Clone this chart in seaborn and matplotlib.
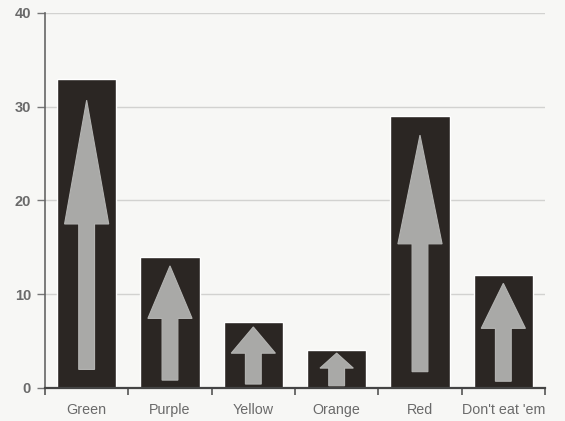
import matplotlib
matplotlib.use('Agg')
import matplotlib.pyplot as plt
import seaborn as sns

# data
categories = ['Green', 'Purple', 'Yellow', 'Orange', 'Red', "Don't eat 'em"]
values = [33, 14, 7, 4, 29, 12]
y_ticks = [0, 10, 20, 30, 40]

sns.set_style('white')
plt.rcParams['font.family'] = ['Liberation Sans', 'DejaVu Sans']

fig = plt.figure(figsize=(5.65, 4.21), dpi=100)
fig.patch.set_facecolor('#f7f7f5')
ax = fig.add_axes([0.0796, 0.0784, 0.885, 0.891])
ax.set_facecolor('#f7f7f5')

sns.barplot(x=categories, y=values, color='#2b2623', saturation=1,
            width=0.71, ax=ax, zorder=2)

# light arrows inside every bar
for i, v in enumerate(values):
    ax.arrow(i, 0.06 * v, 0, 0.87 * v, width=0.19,
             head_width=min(0.53, 0.1 * v),
             head_length=0.4 * v, length_includes_head=True,
             fc='#a9a9a7', ec='#b4b4b2', lw=0.8, zorder=3)

ax.set_xlim(-0.5, len(categories) - 0.5)
ax.set_ylim(0, 40)
ax.set_yticks(y_ticks)
ax.yaxis.grid(True, color='#d2d2d0', lw=1)
ax.set_axisbelow(True)

# tick marks at category boundaries, labels at centres
ax.set_xticks(range(len(categories)))
ax.set_xticklabels(categories, fontsize=10.3, color='#6a6a6a')
ax.tick_params(axis='x', which='major', length=0, pad=11)
ax.set_xticks([i + 0.5 for i in range(-1, len(categories))], minor=True)
ax.tick_params(axis='x', which='minor', length=5, width=1.2,
               color='#555555', direction='out', bottom=True)
ax.tick_params(axis='y', length=6, width=1, color='#777777', left=True,
               labelsize=10.5, labelcolor='#6a6a6a', pad=4)
for lab in ax.get_yticklabels():
    lab.set_fontweight('bold')

ax.set_xlabel('')
ax.set_ylabel('')
for s in ['top', 'right']:
    ax.spines[s].set_visible(False)
ax.spines['left'].set_color('#666666')
ax.spines['bottom'].set_color('#444444')
ax.spines['bottom'].set_linewidth(1.6)
ax.spines['left'].set_linewidth(1.2)

fig.savefig('out.png', dpi=100, facecolor=fig.get_facecolor())
